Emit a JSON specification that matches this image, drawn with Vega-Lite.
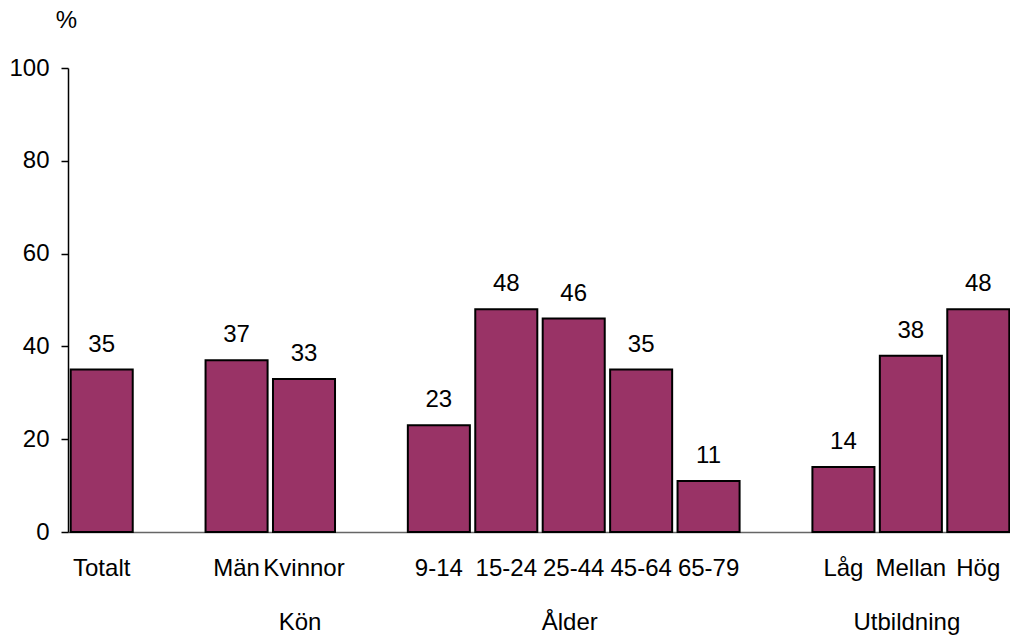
{
  "$schema": "https://vega.github.io/schema/vega-lite/v6.json",
  "autosize": {"type": "none"},
  "width": 944,
  "height": 464,
  "padding": {"left": 68, "top": 68, "right": 0, "bottom": 107},
  "background": "white",
  "config": {
    "view": {"stroke": null},
    "font": "Liberation Sans",
    "text": {"font": "Liberation Sans"}
  },
  "datasets": {
    "bars": [
      {"kategori": "Totalt", "procent": 35},
      {"kategori": "Män", "procent": 37},
      {"kategori": "Kvinnor", "procent": 33},
      {"kategori": "9-14", "procent": 23},
      {"kategori": "15-24", "procent": 48},
      {"kategori": "25-44", "procent": 46},
      {"kategori": "45-64", "procent": 35},
      {"kategori": "65-79", "procent": 11},
      {"kategori": "Låg", "procent": 14},
      {"kategori": "Mellan", "procent": 38},
      {"kategori": "Hög", "procent": 48}
    ],
    "groups": [
      {"grupp": "Kön", "kategori": "Kvinnor"},
      {"grupp": "Ålder", "kategori": "25-44"},
      {"grupp": "Utbildning", "kategori": "Mellan"}
    ]
  },
  "encoding": {
    "x": {
      "field": "kategori",
      "type": "nominal",
      "sort": null,
      "scale": {
        "domain": ["Totalt", " ", "Män", "Kvinnor", "  ", "9-14", "15-24", "25-44", "45-64", "65-79", "   ", "Låg", "Mellan", "Hög"],
        "paddingInner": 0.08,
        "paddingOuter": 0.04
      },
      "axis": {
        "title": null,
        "labelAngle": 0,
        "labelFont": "Liberation Sans",
        "labelFontSize": 24,
        "labelColor": "black",
        "labelPadding": 24,
        "labelBaseline": "top",
        "ticks": false,
        "domainColor": "#666666",
        "domainWidth": 1.5,
        "labelOverlap": false
      }
    }
  },
  "layer": [
    {
      "data": {"name": "bars"},
      "mark": {"type": "bar", "color": "#993366", "stroke": "black", "strokeWidth": 2},
      "encoding": {
        "y": {
          "field": "procent",
          "type": "quantitative",
          "scale": {"domain": [0, 100], "nice": false},
          "axis": {
            "title": "%",
            "titleAngle": 0,
            "titleFont": "Liberation Sans",
            "titleFontSize": 24,
            "titleFontWeight": "normal",
            "titleColor": "black",
            "titleX": -2,
            "titleY": -48,
            "titleAlign": "center",
            "titleBaseline": "middle",
            "values": [0, 20, 40, 60, 80, 100],
            "grid": false,
            "domainColor": "black",
            "domainWidth": 1.5,
            "tickColor": "black",
            "tickSize": 7,
            "tickWidth": 1.5,
            "labelFont": "Liberation Sans",
            "labelFontSize": 24,
            "labelColor": "black",
            "labelPadding": 12
          }
        }
      }
    },
    {
      "data": {"name": "bars"},
      "mark": {"type": "text", "fontSize": 24, "font": "Liberation Sans", "color": "black", "baseline": "alphabetic", "dy": -18},
      "encoding": {
        "y": {"field": "procent", "type": "quantitative"},
        "text": {"field": "procent", "type": "quantitative"}
      }
    },
    {
      "data": {"name": "groups"},
      "mark": {"type": "text", "fontSize": 24, "font": "Liberation Sans", "color": "black", "baseline": "alphabetic", "dy": 98, "dx": -4},
      "encoding": {
        "y": {"value": "height"},
        "text": {"field": "grupp", "type": "nominal"}
      }
    }
  ]
}
